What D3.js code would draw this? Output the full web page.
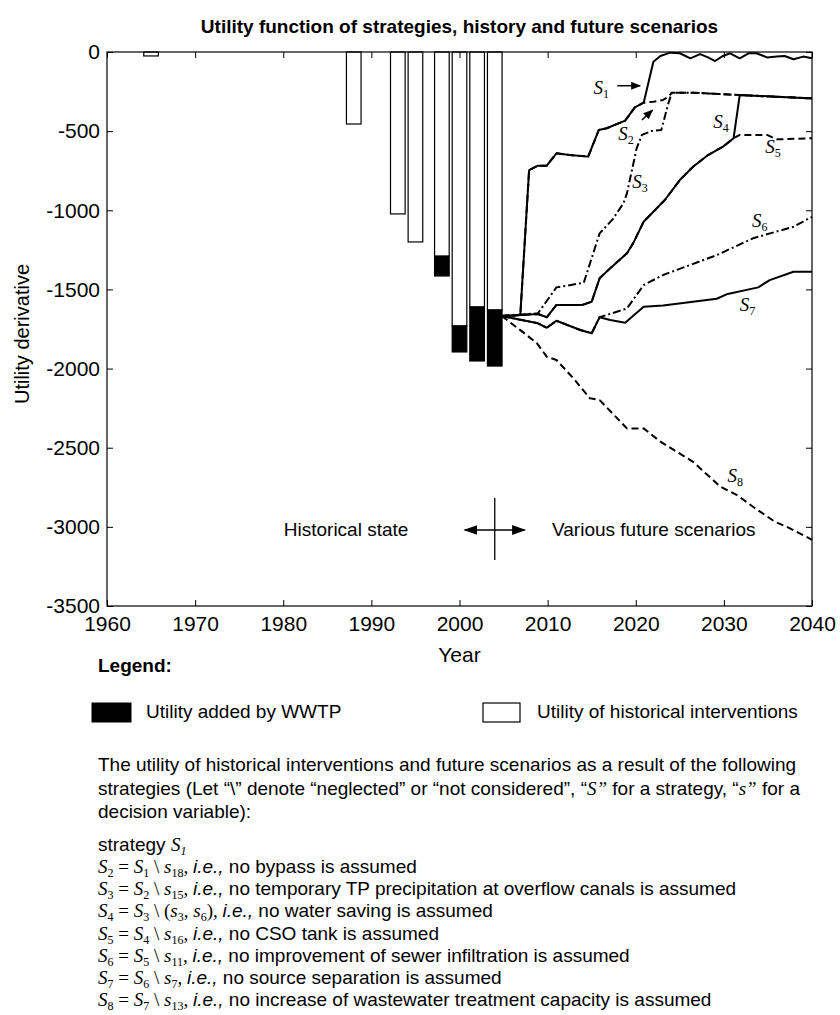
<!DOCTYPE html>
<html>
<head>
<meta charset="utf-8">
<script src="https://cdn.jsdelivr.net/npm/d3@7"></script>
<style>
  body { margin: 0; background: #fff; }
  svg { display: block; }
  text { white-space: pre; }
</style>
</head>
<body>
<svg id="chart" width="840" height="1015"></svg>
<script>
// ---- data -------------------------------------------------------------
const barYears = [1965, 1988, 1993, 1995, 1998, 2000, 2002, 2004];
const historicalUtility = [-25, -455, -1023, -1200, -1290, -1731, -1611, -1630];
const wwtpUtility = [0, 0, 0, 0, -125, -164, -341, -354];

const yearTicks = [1960, 1970, 1980, 1990, 2000, 2010, 2020, 2030, 2040];
const utilityTicks = [0, -500, -1000, -1500, -2000, -2500, -3000, -3500];

// future scenarios: [year, utility derivative]
const S1 = [[2004.8,-1668],[2006.9,-1662],[2007.9,-746],[2008.9,-718],[2009.9,-718],[2011.0,-640],[2012.5,-651],[2014.6,-661],[2015.8,-493],[2016.7,-482],[2018.8,-434],[2019.9,-350],[2020.9,-320],[2022.0,-61],[2022.8,-25],[2023.9,-4],[2025.0,-8],[2026.2,-40],[2027.3,-13],[2028.2,-34],[2029.0,-57],[2029.9,-25],[2030.7,-8],[2031.8,-40],[2032.8,-8],[2033.7,-8],[2034.9,-34],[2036.0,-29],[2036.9,-25],[2037.9,-46],[2039.0,-29],[2040,-40]];
const S2 = [[2004.8,-1668],[2006.9,-1662],[2007.9,-746],[2008.9,-718],[2009.9,-718],[2011.0,-640],[2012.5,-651],[2014.6,-661],[2015.8,-493],[2016.7,-482],[2018.8,-434],[2019.9,-350],[2020.9,-320],[2022.0,-314],[2023.1,-303],[2023.7,-282],[2024.1,-257],[2026.5,-257],[2031.8,-272],[2040,-293]];
const S3 = [[2004.8,-1668],[2008.9,-1651],[2011.0,-1487],[2014.1,-1458],[2015.9,-1146],[2017.4,-1056],[2018.6,-956],[2019.0,-893],[2020.1,-609],[2020.7,-524],[2021.8,-499],[2022.9,-493],[2023.2,-430],[2023.7,-324],[2024.1,-257],[2026.5,-257],[2031.8,-272],[2040,-293]];
const S4 = [[2004.8,-1668],[2008.9,-1655],[2009.9,-1676],[2011.0,-1598],[2013.9,-1598],[2015.0,-1578],[2015.9,-1430],[2017.3,-1356],[2019.0,-1272],[2019.7,-1209],[2020.9,-1072],[2022.0,-1009],[2023.3,-935],[2025.0,-809],[2026.5,-725],[2028.2,-651],[2029.9,-598],[2031.1,-545],[2031.8,-272],[2040,-293]];
const S5 = [[2004.8,-1668],[2008.9,-1655],[2009.9,-1676],[2011.0,-1598],[2013.9,-1598],[2015.0,-1578],[2015.9,-1430],[2017.3,-1356],[2019.0,-1272],[2019.7,-1209],[2020.9,-1072],[2022.0,-1009],[2023.3,-935],[2025.0,-809],[2026.5,-725],[2028.2,-651],[2029.9,-598],[2031.1,-545],[2031.8,-524],[2034.9,-524],[2036.0,-552],[2040,-545]];
const S6 = [[2004.8,-1668],[2008.9,-1714],[2009.9,-1742],[2011.0,-1698],[2013.7,-1756],[2015.0,-1777],[2015.9,-1676],[2019.0,-1620],[2020.9,-1472],[2023.1,-1409],[2029.2,-1283],[2033.3,-1177],[2037.9,-1104],[2040,-1041]];
const S7 = [[2004.8,-1668],[2008.9,-1714],[2009.9,-1742],[2011.0,-1698],[2013.7,-1756],[2015.0,-1777],[2015.9,-1676],[2017.1,-1693],[2018.8,-1710],[2020.9,-1609],[2023.1,-1601],[2026.5,-1578],[2029.2,-1559],[2030.3,-1531],[2033.9,-1487],[2035.2,-1441],[2037.9,-1388],[2040,-1388]];
const S8 = [[2004.8,-1668],[2007.2,-1770],[2008.8,-1841],[2009.9,-1925],[2011.0,-1946],[2012.9,-2060],[2014.8,-2188],[2015.9,-2199],[2019.0,-2378],[2020.9,-2378],[2022.8,-2462],[2026.5,-2589],[2029.6,-2746],[2031.5,-2799],[2033.3,-2873],[2035.8,-2968],[2037.1,-2999],[2039.0,-3052],[2040,-3083]];

// ---- setup ------------------------------------------------------------
const SANS = "'Liberation Sans', Arial, Helvetica, sans-serif";
const SERIF = "'Liberation Serif', 'Times New Roman', Times, serif";

const svg = d3.select("#chart");
const plot = { left: 107, right: 812, top: 52, bottom: 606 };

const x = d3.scaleLinear().domain([1960, 2040]).range([plot.left, plot.right]);
const y = d3.scaleLinear().domain([-3500, 0]).range([plot.bottom, plot.top]);

// title
svg.append("text")
  .attr("x", (plot.left + plot.right) / 2).attr("y", 33)
  .attr("text-anchor", "middle")
  .style("font-family", SANS).style("font-size", "19px").style("font-weight", "bold")
  .text("Utility function of strategies, history and future scenarios");

// ---- bars -------------------------------------------------------------
const barHalf = 0.83;
const bars = svg.append("g");
barYears.forEach((yr, i) => {
  const top = 0, mid = historicalUtility[i], bot = historicalUtility[i] + wwtpUtility[i];
  bars.append("rect")
    .attr("x", x(yr - barHalf)).attr("width", x(yr + barHalf) - x(yr - barHalf))
    .attr("y", y(top)).attr("height", y(mid) - y(top))
    .attr("fill", "#fff").attr("stroke", "#000").attr("stroke-width", 1.2);
  if (wwtpUtility[i] < 0) {
    bars.append("rect")
      .attr("x", x(yr - barHalf)).attr("width", x(yr + barHalf) - x(yr - barHalf))
      .attr("y", y(mid)).attr("height", y(bot) - y(mid))
      .attr("fill", "#000").attr("stroke", "#000").attr("stroke-width", 1.2);
  }
});

// ---- scenario lines ---------------------------------------------------
const line = d3.line().x(d => x(d[0])).y(d => y(d[1]));
const DASH = "7,4", DASHDOT = "8,3,2,3";
const scenarios = [
  { data: S8, dash: DASH },
  { data: S7, dash: null },
  { data: S6, dash: DASHDOT },
  { data: S1, dash: null },
  { data: S4, dash: null },
  { data: S5, dash: DASH },
  { data: S3, dash: DASHDOT },
  { data: S2, dash: DASH }
];
const lines = svg.append("g");
scenarios.forEach(s => {
  lines.append("path")
    .attr("d", line(s.data))
    .attr("fill", "none").attr("stroke", "#000").attr("stroke-width", 2)
    .attr("stroke-linejoin", "round")
    .attr("stroke-dasharray", s.dash);
});

// ---- axes -------------------------------------------------------------
function styleAxis(g) {
  g.selectAll("line").attr("stroke", "#000");
  g.selectAll("path.domain").remove();
  g.selectAll("text").style("font-family", SANS).style("font-size", "21px").attr("fill", "#000");
}
svg.append("g").attr("transform", `translate(0,${plot.bottom})`)
  .call(d3.axisBottom(x).tickValues(yearTicks).tickSize(-6).tickPadding(10).tickFormat(d => String(d)))
  .call(styleAxis);
svg.append("g").attr("transform", `translate(0,${plot.top})`)
  .call(d3.axisTop(x).tickValues(yearTicks).tickSize(-6).tickFormat(""))
  .call(styleAxis);
svg.append("g").attr("transform", `translate(${plot.left},0)`)
  .call(d3.axisLeft(y).tickValues(utilityTicks).tickSize(-6).tickPadding(7).tickFormat(d => String(d)))
  .call(styleAxis);
svg.append("g").attr("transform", `translate(${plot.right},0)`)
  .call(d3.axisRight(y).tickValues(utilityTicks).tickSize(-6).tickFormat(""))
  .call(styleAxis);

svg.append("rect")
  .attr("x", plot.left).attr("y", plot.top)
  .attr("width", plot.right - plot.left).attr("height", plot.bottom - plot.top)
  .attr("fill", "none").attr("stroke", "#000").attr("stroke-width", 1.2);

// axis titles
svg.append("text")
  .attr("x", (plot.left + plot.right) / 2).attr("y", 662)
  .attr("text-anchor", "middle")
  .style("font-family", SANS).style("font-size", "21px")
  .text("Year");
svg.append("text")
  .attr("transform", `translate(29,${(plot.top + plot.bottom) / 2 + 5}) rotate(-90)`)
  .attr("text-anchor", "middle")
  .style("font-family", SANS).style("font-size", "20px")
  .text("Utility derivative");

// ---- rich text helper --------------------------------------------------
function rich(parent, px, py, parts, size) {
  size = size || 19;
  const t = parent.append("text").attr("x", px).attr("y", py).attr("fill", "#000");
  let shift = 0;
  parts.forEach(([str, kind]) => {
    const sp = t.append("tspan").text(str);
    const isSub = kind === "sub" || kind === "subI";
    const target = isSub ? Math.round(size * 0.22) : 0;
    if (target !== shift) { sp.attr("dy", target - shift); shift = target; }
    const serif = kind === "math" || kind === "mathI" || isSub;
    sp.style("font-family", serif ? SERIF : SANS)
      .style("font-size", (isSub ? Math.round(size * 0.65) : size) + "px")
      .style("font-style", (kind === "mathI" || kind === "sansI" || kind === "subI") ? "italic" : "normal");
  });
  return t;
}

// ---- in-chart labels ---------------------------------------------------
const labelAnchors = [
  ["1", 2015.2, -265], ["2", 2018.0, -556], ["3", 2019.6, -861], ["4", 2028.8, -482],
  ["5", 2034.7, -636], ["6", 2033.2, -1104], ["7", 2031.8, -1634], ["8", 2030.4, -2715]
];
const ann = svg.append("g");
labelAnchors.forEach(([sub, yr, v]) => {
  rich(ann, x(yr), y(v), [["S", "mathI"], [sub, "sub"]], 19);
});

// arrow heads
const defs = svg.append("defs");
defs.append("marker").attr("id", "head")
  .attr("viewBox", "0 0 10 10").attr("refX", 9).attr("refY", 5)
  .attr("markerWidth", 10).attr("markerHeight", 10).attr("markerUnits", "userSpaceOnUse")
  .attr("orient", "auto-start-reverse")
  .append("path").attr("d", "M0,1 L10,5 L0,9 Z").attr("fill", "#000");
defs.append("marker").attr("id", "bigHead")
  .attr("viewBox", "0 0 10 10").attr("refX", 9).attr("refY", 5)
  .attr("markerWidth", 14).attr("markerHeight", 14).attr("markerUnits", "userSpaceOnUse")
  .attr("orient", "auto-start-reverse")
  .append("path").attr("d", "M0,1.5 L10,5 L0,8.5 Z").attr("fill", "#000");

ann.append("line")
  .attr("x1", x(2017.9)).attr("y1", y(-213)).attr("x2", x(2020.5)).attr("y2", y(-213))
  .attr("stroke", "#000").attr("stroke-width", 1.5).attr("marker-end", "url(#head)");
ann.append("line")
  .attr("x1", x(2020.7)).attr("y1", y(-430)).attr("x2", x(2021.9)).attr("y2", y(-367))
  .attr("stroke", "#000").attr("stroke-width", 1.5).attr("marker-end", "url(#head)");

// history / future divider
ann.append("line")
  .attr("x1", x(2004.0)).attr("y1", y(-2818)).attr("x2", x(2004.0)).attr("y2", y(-3210))
  .attr("stroke", "#000").attr("stroke-width", 1.3);
ann.append("line")
  .attr("x1", x(2000.6)).attr("y1", y(-3020)).attr("x2", x(2007.4)).attr("y2", y(-3020))
  .attr("stroke", "#000").attr("stroke-width", 1.5)
  .attr("marker-start", "url(#bigHead)").attr("marker-end", "url(#bigHead)");
ann.append("text")
  .attr("x", x(1994.2)).attr("y", y(-3020) + 6).attr("text-anchor", "end")
  .style("font-family", SANS).style("font-size", "19px")
  .text("Historical state");
ann.append("text")
  .attr("x", x(2010.5)).attr("y", y(-3020) + 6)
  .style("font-family", SANS).style("font-size", "19px")
  .text("Various future scenarios");

// ---- legend ------------------------------------------------------------
const leg = svg.append("g");
leg.append("text").attr("x", 98).attr("y", 672)
  .style("font-family", SANS).style("font-size", "19px").style("font-weight", "bold")
  .text("Legend:");
leg.append("rect").attr("x", 92).attr("y", 703).attr("width", 39).attr("height", 19)
  .attr("fill", "#000").attr("stroke", "#000");
leg.append("text").attr("x", 146).attr("y", 718)
  .style("font-family", SANS).style("font-size", "19px")
  .text("Utility added by WWTP");
leg.append("rect").attr("x", 483).attr("y", 703).attr("width", 37).attr("height", 19)
  .attr("fill", "#fff").attr("stroke", "#000").attr("stroke-width", 1.2);
leg.append("text").attr("x", 537).attr("y", 718)
  .style("font-family", SANS).style("font-size", "19px")
  .text("Utility of historical interventions");

// ---- explanatory notes -------------------------------------------------
const notes = svg.append("g");
rich(notes, 98, 771, [["The utility of historical interventions and future scenarios as a result of the following", "sans"]]);
rich(notes, 98, 795, [
  ["strategies (Let \u201c\\\u201d denote \u201cneglected\u201d or \u201cnot considered\u201d, \u201c", "sans"],
  ["S\u201d", "mathI"], [" for a strategy, \u201c", "sans"], ["s\u201d", "mathI"], [" for a", "sans"]
]);
rich(notes, 98, 818, [["decision variable):", "sans"]]);

rich(notes, 98, 851, [["strategy ", "sans"], ["S", "mathI"], ["1", "subI"]]);
const defsList = [
  [["S", "mathI"], ["2", "sub"], [" = ", "math"], ["S", "mathI"], ["1", "sub"], [" \\ ", "math"], ["s", "mathI"], ["18", "sub"], [", ", "math"], ["i.e.,", "sansI"], [" no bypass is assumed", "sans"]],
  [["S", "mathI"], ["3", "sub"], [" = ", "math"], ["S", "mathI"], ["2", "sub"], [" \\ ", "math"], ["s", "mathI"], ["15", "sub"], [", ", "math"], ["i.e.,", "sansI"], [" no temporary TP precipitation at overflow canals is assumed", "sans"]],
  [["S", "mathI"], ["4", "sub"], [" = ", "math"], ["S", "mathI"], ["3", "sub"], [" \\ (", "math"], ["s", "mathI"], ["3", "sub"], [", ", "math"], ["s", "mathI"], ["6", "sub"], ["), ", "math"], ["i.e.,", "sansI"], [" no water saving is assumed", "sans"]],
  [["S", "mathI"], ["5", "sub"], [" = ", "math"], ["S", "mathI"], ["4", "sub"], [" \\ ", "math"], ["s", "mathI"], ["16", "sub"], [", ", "math"], ["i.e.,", "sansI"], [" no CSO tank is assumed", "sans"]],
  [["S", "mathI"], ["6", "sub"], [" = ", "math"], ["S", "mathI"], ["5", "sub"], [" \\ ", "math"], ["s", "mathI"], ["11", "sub"], [", ", "math"], ["i.e.,", "sansI"], [" no improvement of sewer infiltration is assumed", "sans"]],
  [["S", "mathI"], ["7", "sub"], [" = ", "math"], ["S", "mathI"], ["6", "sub"], [" \\ ", "math"], ["s", "mathI"], ["7", "sub"], [", ", "math"], ["i.e.,", "sansI"], [" no source separation is assumed", "sans"]],
  [["S", "mathI"], ["8", "sub"], [" = ", "math"], ["S", "mathI"], ["7", "sub"], [" \\ ", "math"], ["s", "mathI"], ["13", "sub"], [", ", "math"], ["i.e.,", "sansI"], [" no increase of wastewater treatment capacity is assumed", "sans"]]
];
defsList.forEach((parts, i) => rich(notes, 98, 873 + i * 22.2, parts));
</script>
</body>
</html>
